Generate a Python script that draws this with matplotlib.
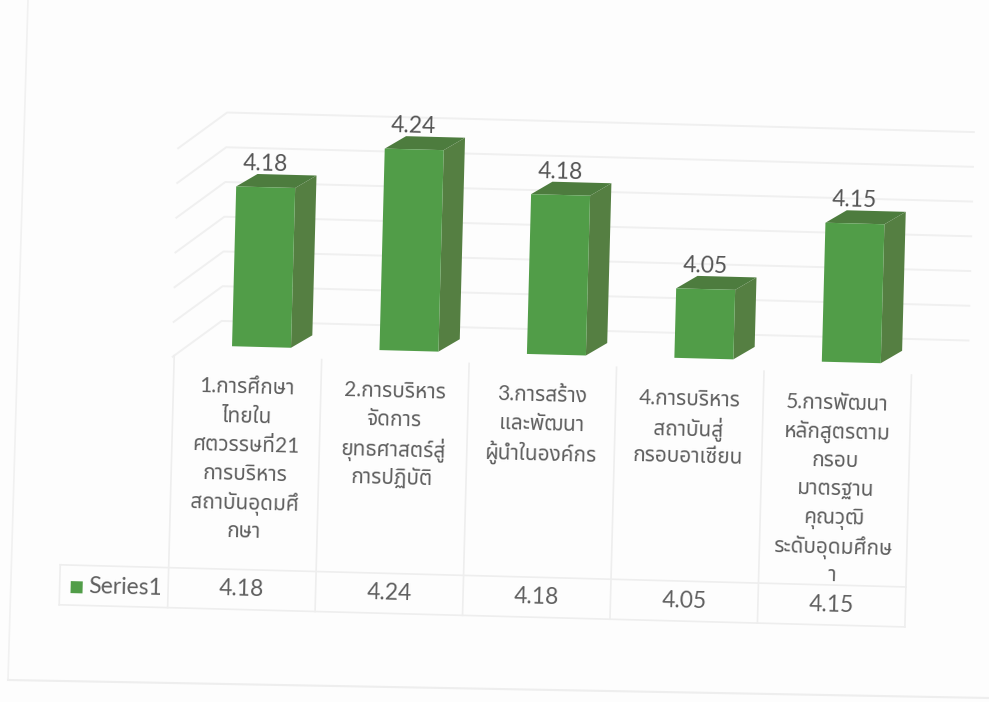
import matplotlib
matplotlib.use("Agg")
import matplotlib.pyplot as plt
from matplotlib.transforms import Affine2D
from matplotlib.patches import Polygon, Rectangle

categories = [
    ["1.การศึกษา", "ไทยใน", "ศตวรรษที่21", "การบริหาร", "สถาบันอุดมศึ", "กษา"],
    ["2.การบริหาร", "จัดการ", "ยุทธศาสตร์สู่", "การปฏิบัติ"],
    ["3.การสร้าง", "และพัฒนา", "ผู้นำในองค์กร"],
    ["4.การบริหาร", "สถาบันสู่", "กรอบอาเซียน"],
    ["5.การพัฒนา", "หลักสูตรตาม", "กรอบ", "มาตรฐาน", "คุณวุฒิ", "ระดับอุดมศึกษ", "า"],
]
values = [4.18, 4.24, 4.18, 4.05, 4.15]
value_labels = ["4.18", "4.24", "4.18", "4.05", "4.15"]
grid_values = [3.95, 4.00, 4.05, 4.10, 4.15, 4.20, 4.25]
series_name = "Series1"

plt.rcParams['font.family'] = ['Lato', 'Noto Sans Thai', 'Noto Sans', 'DejaVu Sans']

W, H = 989, 702
BASE = 3.95
PX_X = 147.5     # pixels per category
PX_Y = 695.0     # pixels per value unit
CX0 = 261.5      # pixel x of first category
BY0 = 347.0      # pixel y of the axis base
TILT = -1.5      # the scanned page sits a little crooked


def yv(py):
    # pixel row (from top, before page tilt) -> value units
    return BASE - (py - BY0) / PX_Y


def xc(px):
    return (px - CX0) / PX_X


fig = plt.figure(figsize=(W / 100, H / 100), dpi=100, facecolor="#fdfdfd")
ax = fig.add_axes([0, 0, 1, 1])
ax.set_xlim(xc(0), xc(W))
ax.set_ylim(yv(H), yv(0))
ax.axis("off")

tilt = Affine2D().rotate_deg_around(CX0, H - BY0, TILT)
tr = ax.transData + tilt

# page edge of the scan
ax.plot([xc(28), xc(8)], [yv(0), yv(680)], color="#f1f1f1", lw=1.2, zorder=1)
ax.plot([xc(8), xc(989)], [yv(680), yv(698)], color="#eeeeee", lw=1.5, zorder=1)

# back wall gridlines
wall_dx = 48 / PX_X
wall_dy = 37 / PX_Y
floor_off = 12 / PX_Y
left = -0.60
right = xc(968)
grid_c = "#f0f0f0"
for g in grid_values:
    ax.plot([left, left + wall_dx, right],
            [g - floor_off, g - floor_off + wall_dy, g - floor_off + wall_dy],
            color=grid_c, lw=1.4, transform=tr, zorder=1)

# bars
bar_w = 59 / PX_X
dep_x = 21 / PX_X
dep_y = 13 / PX_Y
for i, v in enumerate(values):
    x0 = i - bar_w / 2
    x1 = i + bar_w / 2
    front = [(x0, BASE), (x1, BASE), (x1, v), (x0, v)]
    side = [(x1, BASE), (x1 + dep_x, BASE + dep_y), (x1 + dep_x, v + dep_y), (x1, v)]
    top = [(x0, v), (x1, v), (x1 + dep_x, v + dep_y), (x0 + dep_x, v + dep_y)]
    ax.add_patch(Polygon(side, fc="#557f42", ec="none", transform=tr, zorder=3))
    ax.add_patch(Polygon(top, fc="#4d7c3e", ec="none", transform=tr, zorder=3))
    ax.add_patch(Polygon(front, fc="#519d48", ec="none", transform=tr, zorder=4))
    ax.text(i - 1 / PX_X, v + 23 / PX_Y, value_labels[i], fontsize=16.5, color="#555555",
            ha="center", va="center", rotation=TILT, rotation_mode="anchor",
            transform=tr, zorder=5)

# data table
cell_c = "#eeeeee"
col_off = -0.09
n = len(values)
row_top = yv(570)
row_bot = yv(610)
tab_left = xc(66)
tab_right = n - 0.5 + col_off
ax.plot([tab_left, tab_right], [row_top, row_top], color=cell_c, lw=1.2, transform=tr, zorder=1)
ax.plot([tab_left, tab_right], [row_bot, row_bot], color=cell_c, lw=1.2, transform=tr, zorder=1)
ax.plot([tab_left, tab_left], [row_top, row_bot], color=cell_c, lw=1.2, transform=tr, zorder=1)
for i in range(n + 1):
    ax.plot([i - 0.5 + col_off] * 2, [yv(358), row_bot], color=cell_c, lw=1.2, transform=tr, zorder=1)

for i, lines in enumerate(categories):
    for j, line in enumerate(lines):
        ax.text(i + col_off, yv(386 + 28.7 * j), line, fontsize=15, color="#5f5f5f",
                ha="center", va="center_baseline", rotation=TILT, rotation_mode="anchor",
                transform=tr, zorder=5)
    ax.text(i + col_off, yv(590), value_labels[i], fontsize=16.5, color="#5f5f5f",
            ha="center", va="center", rotation=TILT, rotation_mode="anchor",
            transform=tr, zorder=5)

# legend key in the table
ax.add_patch(Rectangle((xc(77), yv(598)), 12 / PX_X, 12 / PX_Y, fc="#519d48", ec="none", transform=tr, zorder=5))
ax.text(xc(95), yv(591), series_name, fontsize=16.5, color="#5f5f5f", ha="left", va="center",
        rotation=TILT, rotation_mode="anchor", transform=tr, zorder=5)

fig.savefig("out.png", dpi=100, facecolor=fig.get_facecolor())
